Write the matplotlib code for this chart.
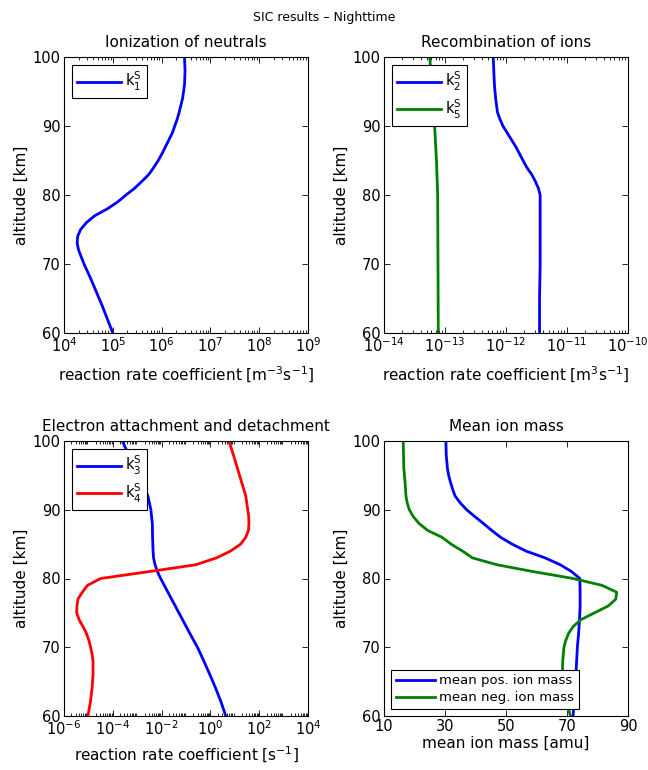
import numpy as np
import matplotlib
matplotlib.use("Agg")
import matplotlib.pyplot as plt
from matplotlib.ticker import LogLocator, FixedLocator, NullFormatter

plt.rcParams['font.family'] = ['DejaVu Sans']
plt.rcParams['mathtext.default'] = 'regular'
plt.rcParams['font.size'] = 11

# Ionization of neutrals (log10 of k1)
alt_k1 = [60, 62, 64, 66, 68, 70, 72, 73, 74, 75, 76, 77, 78, 79, 80, 81,
          82, 83, 84, 85, 86, 87, 88, 89, 90, 91, 92, 94, 96, 98, 100]
log_k1 = [5.00, 4.89, 4.78, 4.66, 4.54, 4.41, 4.30, 4.27, 4.28, 4.34, 4.46,
          4.63, 4.89, 5.10, 5.27, 5.45, 5.60, 5.74, 5.84, 5.93, 6.01, 6.08,
          6.15, 6.22, 6.27, 6.32, 6.36, 6.43, 6.47, 6.48, 6.47]

# Recombination of ions (log10)
alt_k2 = [60, 65, 70, 75, 80, 81, 82, 83, 84, 85, 86, 87, 88, 89, 90, 91,
          92, 94, 96, 98, 100]
log_k2 = [-11.45, -11.45, -11.44, -11.44, -11.44, -11.47, -11.52, -11.58,
          -11.66, -11.72, -11.78, -11.84, -11.91, -11.98, -12.05, -12.10,
          -12.14, -12.17, -12.19, -12.20, -12.21]
alt_k5 = [60, 70, 80, 85, 90, 95, 100]
log_k5 = [-13.11, -13.115, -13.12, -13.14, -13.17, -13.21, -13.25]

# Electron attachment and detachment (log10)
alt_k3 = [60, 62, 64, 66, 68, 70, 72, 74, 76, 78, 80, 81, 82, 83, 84, 86,
          88, 90, 92, 94, 96, 98, 100]
log_k3 = [0.63, 0.44, 0.22, -0.02, -0.27, -0.53, -0.84, -1.14, -1.44, -1.74,
          -2.04, -2.17, -2.27, -2.33, -2.35, -2.37, -2.38, -2.44, -2.56,
          -2.80, -3.08, -3.35, -3.61]
alt_k4 = [60, 62, 64, 66, 68, 69, 70, 71, 72, 73, 74, 75, 76, 77, 78, 79,
          80, 81, 82, 83, 84, 85, 86, 87, 88, 89, 90, 92, 94, 96, 98, 100]
log_k4 = [-5.02, -4.92, -4.85, -4.81, -4.81, -4.85, -4.91, -4.98, -5.08,
          -5.22, -5.38, -5.48, -5.47, -5.43, -5.25, -5.04, -4.50, -2.52,
          -0.60, 0.25, 0.83, 1.24, 1.45, 1.56, 1.58, 1.57, 1.53, 1.45, 1.28,
          1.11, 0.94, 0.76]

# Mean ion mass [amu]
alt_pos = [60, 65, 70, 72, 74, 76, 78, 80, 81, 82, 83, 84, 85, 86, 87, 88,
           89, 90, 91, 92, 93, 94, 95, 96, 98, 100]
mass_pos = [72.0, 72.8, 73.4, 73.8, 74.1, 74.3, 74.3, 74.2, 71.5, 67.8,
            62.8, 56.5, 52.0, 48.2, 45.3, 42.6, 39.8, 37.1, 35.0, 33.3,
            32.5, 31.8, 31.2, 30.8, 30.4, 30.3]
alt_neg = [60, 62, 64, 66, 68, 70, 71, 72, 73, 74, 75, 76, 77, 78, 79, 80,
           81, 82, 83, 84, 85, 86, 87, 88, 89, 90, 91, 92, 94, 96, 100]
mass_neg = [71.1, 70.0, 69.0, 68.5, 68.6, 69.0, 69.6, 70.5, 72.0, 74.5,
            79.0, 83.5, 86.0, 86.3, 81.5, 72.0, 59.0, 47.0, 39.0, 35.7,
            32.0, 29.0, 24.3, 21.5, 19.6, 18.3, 17.6, 17.2, 16.9, 16.5,
            16.3]

BLUE = (0, 0, 1)
GREEN = (0, 0.5, 0)
RED = (1, 0, 0)
LW = 2.0

fig = plt.figure(figsize=(6.48, 7.70), dpi=100)
W, H = 648.0, 770.0


def make_axes(x0, x1, y0, y1):
    return fig.add_axes([x0 / W, 1 - y1 / H, (x1 - x0) / W, (y1 - y0) / H])


def style(ax, logx=True):
    ax.set_ylim(60, 100)
    ax.yaxis.set_major_locator(FixedLocator([60, 70, 80, 90, 100]))
    ax.tick_params(which='both', direction='in', top=True, right=True,
                   labelsize=10.5, width=0.6, pad=2.5)
    ax.tick_params(which='major', length=4.5)
    ax.tick_params(which='minor', length=2.5)
    if logx:
        ax.xaxis.set_minor_locator(LogLocator(base=10, subs=np.arange(2, 10),
                                              numticks=20))
        ax.xaxis.set_minor_formatter(NullFormatter())
    for s in ax.spines.values():
        s.set_linewidth(0.8)
    ax.set_ylabel('altitude [km]', fontsize=11, labelpad=3)


def legend(ax, loc, size=10.5):
    leg = ax.legend(loc=loc, fancybox=False, edgecolor='black', framealpha=1,
                    handlelength=3.0, fontsize=size, borderaxespad=0.55,
                    labelspacing=0.3, handletextpad=0.3, borderpad=0.35)
    leg.get_frame().set_linewidth(0.8)


# top-left
ax1 = make_axes(64, 308, 57, 333)
ax1.plot(10.0 ** np.array(log_k1), alt_k1, color=BLUE, lw=LW, label='$k_1^S$')
ax1.set_xscale('log')
ax1.set_xlim(1e4, 1e9)
ax1.xaxis.set_major_locator(LogLocator(base=10, numticks=10))
style(ax1)
ax1.set_title('Ionization of neutrals', fontsize=11, pad=7)
ax1.set_xlabel('reaction rate coefficient [m$^{-3}$s$^{-1}$]', fontsize=11,
               labelpad=7)
legend(ax1, 'upper left')

# top-right
ax2 = make_axes(384, 628, 57, 333)
ax2.plot(10.0 ** np.array(log_k2), alt_k2, color=BLUE, lw=LW, label='$k_2^S$')
ax2.plot(10.0 ** np.array(log_k5), alt_k5, color=GREEN, lw=LW,
         label='$k_5^S$')
ax2.set_xscale('log')
ax2.set_xlim(1e-14, 1e-10)
ax2.xaxis.set_major_locator(LogLocator(base=10, numticks=10))
style(ax2)
ax2.set_title('Recombination of ions', fontsize=11, pad=7)
ax2.set_xlabel('reaction rate coefficient [m$^{3}$s$^{-1}$]', fontsize=11,
               labelpad=7)
legend(ax2, 'upper left')

# bottom-left
ax3 = make_axes(64, 308, 441, 716)
ax3.plot(10.0 ** np.array(log_k3), alt_k3, color=BLUE, lw=LW, label='$k_3^S$')
ax3.plot(10.0 ** np.array(log_k4), alt_k4, color=RED, lw=LW, label='$k_4^S$')
ax3.set_xscale('log')
ax3.set_xlim(1e-6, 1e4)
ax3.xaxis.set_major_locator(FixedLocator([1e-6, 1e-4, 1e-2, 1e0, 1e2, 1e4]))
style(ax3)
ax3.set_title('Electron attachment and detachment', fontsize=11, pad=7)
ax3.set_xlabel('reaction rate coefficient [s$^{-1}$]', fontsize=11,
               labelpad=5)
legend(ax3, 'upper left')

# bottom-right
ax4 = make_axes(384, 628, 441, 716)
ax4.plot(mass_pos, alt_pos, color=BLUE, lw=LW, label='mean pos. ion mass')
ax4.plot(mass_neg, alt_neg, color=GREEN, lw=LW, label='mean neg. ion mass')
ax4.set_xlim(10, 90)
ax4.xaxis.set_major_locator(FixedLocator([10, 30, 50, 70, 90]))
style(ax4, logx=False)
ax4.set_title('Mean ion mass', fontsize=11, pad=7)
ax4.set_xlabel('mean ion mass [amu]', fontsize=11, labelpad=1)
legend(ax4, 'lower left', size=9.5)

fig.text(0.5, 1 - 17 / H, 'SIC results \u2013 Nighttime', ha='center',
         va='center', fontsize=9)

fig.savefig('out.png', dpi=100)
